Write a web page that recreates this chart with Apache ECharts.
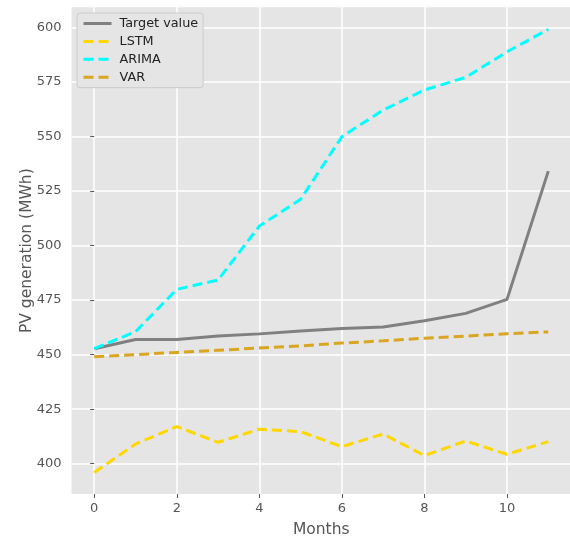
<!DOCTYPE html>
<html>
<head>
<meta charset="utf-8">
<script src="https://cdn.jsdelivr.net/npm/echarts@6/dist/echarts.min.js"></script>
<style>
  html, body { margin: 0; padding: 0; background: #ffffff; }
  #chart { width: 570px; height: 538px; }
</style>
</head>
<body>
<div id="chart"></div>
<script>
// Monthly PV generation: measured target and three forecasting models
const months = [0, 1, 2, 3, 4, 5, 6, 7, 8, 9, 10, 11];
const targetValue = [452.7, 456.9, 456.9, 458.5, 459.5, 460.8, 462.0, 462.7, 465.5, 468.9, 475.3, 534.1];
const lstm = [396.0, 409.0, 417.0, 409.8, 415.8, 414.7, 407.8, 413.6, 403.7, 410.4, 404.3, 410.1];
const arima = [452.7, 460.5, 479.9, 484.2, 508.9, 521.2, 549.9, 562.1, 571.3, 577.1, 588.8, 599.1];
const varModel = [449.0, 450.0, 451.0, 452.0, 453.0, 454.0, 455.3, 456.3, 457.5, 458.5, 459.6, 460.4];

const xTicks = [0, 2, 4, 6, 8, 10];
const yTicks = [400, 425, 450, 475, 500, 525, 550, 575, 600];

const FONT = 'DejaVu Sans';

function pairs(vals) {
  return months.map((m, i) => [m, vals[i]]);
}

function lineSeries(name, vals, color, dashed) {
  return {
    name: name,
    type: 'line',
    data: pairs(vals),
    symbol: 'none',
    smooth: false,
    silent: true,
    lineStyle: { color: color, width: 3, type: dashed ? [10, 5] : 'solid', cap: 'butt' },
    itemStyle: { color: color }
  };
}

const chart = echarts.init(document.getElementById('chart'), null, { renderer: 'canvas' });

chart.setOption({
  animation: false,
  backgroundColor: '#ffffff',
  textStyle: { fontFamily: FONT },
  grid: {
    left: 71.5, top: 7.3, width: 499.5, height: 486.7,
    outerBoundsMode: 'none',
    show: true, backgroundColor: '#E5E5E5', borderWidth: 0
  },
  legend: {
    orient: 'vertical',
    left: 77, top: 13,
    padding: [4, 5, 4, 5],
    itemWidth: 28, itemHeight: 14, itemGap: 4.9,
    backgroundColor: '#E5E5E5',
    borderColor: '#CCCCCC', borderWidth: 1, borderRadius: 3,
    itemStyle: { opacity: 0 },
    lineStyle: { width: 3 },
    textStyle: { fontFamily: FONT, fontSize: 12.8, color: '#222222', padding: [0, 0, 0, 3] },
    data: ['Target value', 'LSTM', 'ARIMA', 'VAR']
  },
  xAxis: {
    type: 'value',
    min: -0.55, max: 11.55,
    name: 'Months', nameLocation: 'middle', nameGap: 27.5,
    nameMoveOverlap: false,
    nameTextStyle: { fontFamily: FONT, fontSize: 15.5, color: '#555555' },
    axisLine: { show: false },
    axisTick: { show: true, length: 4, lineStyle: { color: '#555555', width: 1 }, customValues: xTicks },
    axisLabel: { fontFamily: FONT, fontSize: 13, color: '#555555', margin: 8.5, customValues: xTicks },
    splitLine: { show: true, lineStyle: { color: '#ffffff', width: 1.5 } }
  },
  yAxis: {
    type: 'value',
    min: 386.1, max: 609.2,
    name: 'PV generation (MWh)', nameLocation: 'middle', nameGap: 37,
    nameMoveOverlap: false,
    nameTextStyle: { fontFamily: FONT, fontSize: 15.5, color: '#555555' },
    axisLine: { show: false },
    axisTick: { show: true, length: 4, lineStyle: { color: '#555555', width: 1 }, customValues: yTicks },
    axisLabel: { fontFamily: FONT, fontSize: 13, color: '#555555', margin: 10, customValues: yTicks },
    splitLine: { show: true, lineStyle: { color: '#ffffff', width: 1.5 } }
  },
  series: [
    lineSeries('Target value', targetValue, '#808080', false),
    lineSeries('LSTM', lstm, '#FFD700', true),
    lineSeries('ARIMA', arima, '#00FFFF', true),
    lineSeries('VAR', varModel, '#DAA520', true)
  ]
});
</script>
</body>
</html>
